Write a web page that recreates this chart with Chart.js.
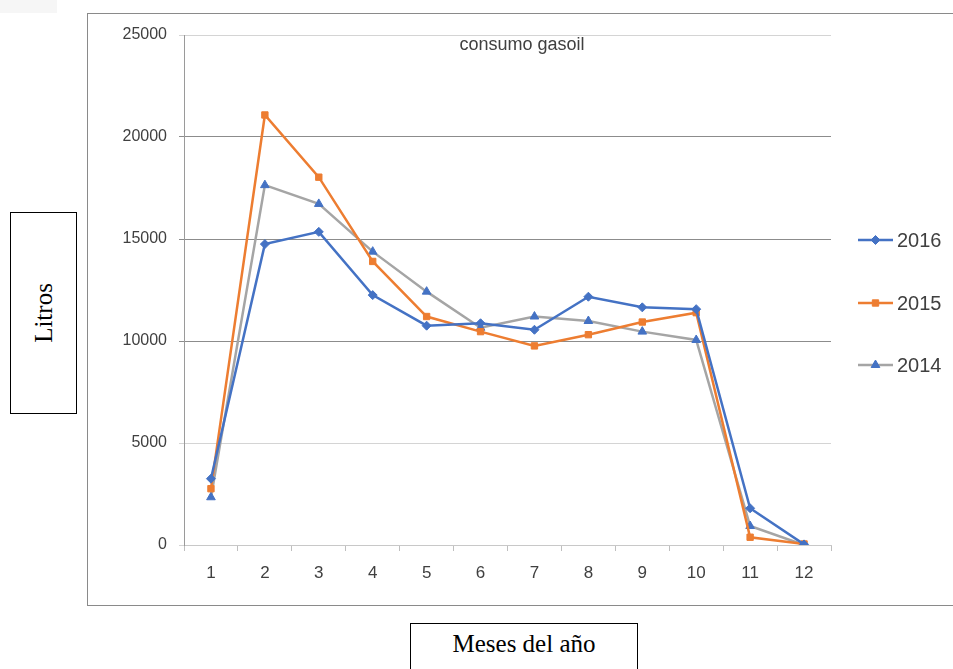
<!DOCTYPE html>
<html><head><meta charset="utf-8">
<script src="https://cdn.jsdelivr.net/npm/chart.js@4/dist/chart.umd.min.js"></script>
<style>
html,body{margin:0;padding:0;background:#fff;width:953px;height:669px;overflow:hidden;}
#smudge{position:absolute;left:0;top:0;width:57px;height:13px;background:#f6f6f6;}
#frame{position:absolute;left:87px;top:13px;width:866px;height:593px;border:1px solid #8a8a8a;border-right:none;box-sizing:border-box;}
#ybox{position:absolute;left:10px;top:212px;width:67px;height:202px;border:1.5px solid #000;box-sizing:border-box;}
#ybox span{position:absolute;left:50%;top:50%;transform:translate(-50%,-50%) rotate(-90deg);font-family:"Liberation Serif",serif;font-size:25px;color:#000;white-space:nowrap;}
#xbox{position:absolute;left:410px;top:623px;width:228px;height:60px;border:1.5px solid #000;box-sizing:border-box;text-align:center;}
#xbox span{display:block;margin-top:6px;font-family:"Liberation Serif",serif;font-size:25px;color:#000;}
canvas{position:absolute;left:0;top:0;}
</style></head>
<body>
<div id="smudge"></div>
<div id="frame"></div>
<div id="ybox"><span>Litros</span></div>
<div id="xbox"><span>Meses del año</span></div>
<canvas id="c" width="953" height="669"></canvas>
<script>
const months = ['1','2','3','4','5','6','7','8','9','10','11','12'];
const s2016 = [3250, 14750, 15350, 12250, 10750, 10870, 10550, 12170, 11650, 11560, 1800, 30];
const s2015 = [2760, 21080, 18030, 13900, 11200, 10460, 9760, 10310, 10930, 11390, 380, 50];
const s2014 = [2340, 17640, 16720, 14380, 12420, 10650, 11200, 10980, 10460, 10050, 930, 0];
const seriesNames = ['2016','2015','2014'];
const yTicks = [0, 5000, 10000, 15000, 20000, 25000];
const chartTitle = 'consumo gasoil';

const BLUE = '#4472C4', ORANGE = '#ED7D31', GRAY = '#A5A5A5';

const datasets = [
  {label: seriesNames[0], data: s2016, borderColor: BLUE, backgroundColor: BLUE, pointStyle: 'rectRot', pointRadius: 4.5, pointBorderColor: BLUE, pointBackgroundColor: BLUE},
  {label: seriesNames[1], data: s2015, borderColor: ORANGE, backgroundColor: ORANGE, pointStyle: 'rect', pointRadius: 4.5, pointBorderColor: ORANGE, pointBackgroundColor: ORANGE},
  {label: seriesNames[2], data: s2014, borderColor: GRAY, backgroundColor: BLUE, pointStyle: 'triangle', pointRadius: 5, pointBorderColor: BLUE, pointBackgroundColor: BLUE}
].map(d => Object.assign({borderWidth: 2.5, tension: 0, fill: false, pointBorderWidth: 1, pointHoverRadius: 5}, d));

const legendYs = [240, 303, 365];

const decor = {
  id: 'decor',
  afterDraw(chart) {
    const ctx = chart.ctx;
    ctx.save();
    ctx.fillStyle = '#404040';
    ctx.font = '18px "Liberation Sans", Arial, sans-serif';
    ctx.textAlign = 'center';
    ctx.textBaseline = 'middle';
    ctx.fillText(chartTitle, 522, 45);
    chart.data.datasets.forEach((ds, i) => {
      const y = legendYs[i];
      ctx.strokeStyle = ds.borderColor;
      ctx.lineWidth = 2.5;
      ctx.beginPath(); ctx.moveTo(858, y); ctx.lineTo(893, y); ctx.stroke();
      ctx.fillStyle = ds.pointBackgroundColor;
      ctx.strokeStyle = ds.pointBorderColor;
      ctx.lineWidth = 1;
      Chart.helpers.drawPoint(ctx, {pointStyle: ds.pointStyle, radius: ds.pointRadius, rotation: 0, borderWidth: 1}, 875.5, y);
      ctx.fillStyle = '#404040';
      ctx.font = '20px "Liberation Sans", Arial, sans-serif';
      ctx.textAlign = 'left';
      ctx.textBaseline = 'middle';
      ctx.fillText(ds.label, 897, y + 1);
    });
    ctx.restore();
  }
};

new Chart(document.getElementById('c'), {
  type: 'line',
  data: {labels: months, datasets},
  options: {
    responsive: false,
    animation: false,
    layout: {padding: {left: 104, right: 122, top: 35, bottom: 84}},
    plugins: {legend: {display: false}, title: {display: false}, tooltip: {enabled: false}},
    scales: {
      x: {
        type: 'category',
        offset: true,
        afterFit(s) { s.height = 40; },
        grid: {offset: true, drawOnChartArea: false, drawTicks: true, tickLength: 6, color: '#bfbfbf'},
        border: {display: true, color: '#c8c8c8', width: 1},
        ticks: {color: '#404040', font: {family: '"Liberation Sans", Arial, sans-serif', size: 17}, padding: 12, maxRotation: 0, autoSkip: false}
      },
      y: {
        min: 0, max: 25000,
        afterFit(s) { s.width = 80; },
        afterBuildTicks(s) { s.ticks = yTicks.map(v => ({value: v})); },
        grid: {
          color: c => (c.tick && [10000,15000,20000].includes(c.tick.value)) ? '#8c8c8c' : '#d4d4d4',
          lineWidth: 1, tickLength: 5, drawTicks: true
        },
        border: {display: true, color: '#9a9a9a', width: 1},
        ticks: {color: '#404040', font: {family: '"Liberation Sans", Arial, sans-serif', size: 16}, padding: 12,
          callback: v => String(v)}
      }
    }
  },
  plugins: [decor]
});
</script>
</body></html>
